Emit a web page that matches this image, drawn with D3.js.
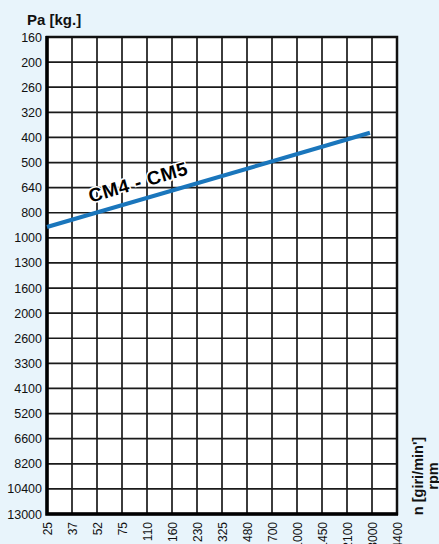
<!DOCTYPE html>
<html>
<head>
<meta charset="utf-8">
<script src="https://cdn.jsdelivr.net/npm/d3@7"></script>
<style>
  html, body { margin: 0; padding: 0; background: #e8f4fb; }
  svg { display: block; font-family: "Liberation Sans", Arial, sans-serif; }
</style>
</head>
<body>
<svg id="chart" width="439" height="544"></svg>
<script>
// Tick labels
const nLabels = ["25","37","52","75","110","160","230","325","480","700","1000","1450","2100","3000","4400"];
const paLabels = ["160","200","260","320","400","500","640","800","1000","1300","1600","2000","2600","3300","4100","5200","6600","8200","10400","13000"];
// Series: CM4 - CM5 (straight line in log-log)
const seriesName = "CM4 - CM5";
const lineN = [25, 2950];
const linePa = [923, 387];

(function () {
const W = 439, H = 544;
const pL = 47, pR = 397, pT = 37, pB = 514;

const svg = d3.select("#chart");
svg.append("rect").attr("width", W).attr("height", H).attr("fill", "#e8f4fb");

const xPoint = d3.scalePoint().domain(nLabels).range([pL, pR]).padding(0);
const yPoint = d3.scalePoint().domain(paLabels).range([pT, pB]).padding(0);
const xLog = d3.scaleLog().domain([+nLabels[0], +nLabels[nLabels.length - 1]]).range([pL, pR]);
const yLog = d3.scaleLog().domain([+paLabels[0], +paLabels[paLabels.length - 1]]).range([pT, pB]);

// plot area
svg.append("rect").attr("x", pL).attr("y", pT)
  .attr("width", pR - pL).attr("height", pB - pT).attr("fill", "#fff");

// grid
const grid = svg.append("g").attr("stroke", "#1a1a1a").attr("stroke-width", 1.7);
grid.selectAll("line.v").data(nLabels).join("line").attr("class", "v")
  .attr("x1", d => xPoint(d)).attr("x2", d => xPoint(d))
  .attr("y1", pT).attr("y2", pB);
grid.selectAll("line.h").data(paLabels).join("line").attr("class", "h")
  .attr("y1", d => yPoint(d)).attr("y2", d => yPoint(d))
  .attr("x1", pL).attr("x2", pR);

// frame
svg.append("rect").attr("x", pL).attr("y", pT)
  .attr("width", pR - pL).attr("height", pB - pT)
  .attr("fill", "none").attr("stroke", "#111").attr("stroke-width", 2.5);
svg.append("path").attr("d", `M${pL},${pT - 1}V${pB}H${pR + 1}`)
  .attr("fill", "none").attr("stroke", "#000").attr("stroke-width", 3.5);

// line
const pts = lineN.map((n, i) => [n, linePa[i]]);
const lineGen = d3.line().x(d => xLog(d[0])).y(d => yLog(d[1]));
svg.append("path").datum(pts).attr("d", lineGen)
  .attr("fill", "none").attr("stroke", "#1a76bc").attr("stroke-width", 4.2);

// series label along the line
const p0 = [xLog(pts[0][0]), yLog(pts[0][1])];
const p1 = [xLog(pts[1][0]), yLog(pts[1][1])];
const ang = Math.atan2(p1[1] - p0[1], p1[0] - p0[0]) * 180 / Math.PI;
const lx = 143;
const ly = p0[1] + (lx - p0[0]) * (p1[1] - p0[1]) / (p1[0] - p0[0]);
svg.append("text")
  .attr("transform", `translate(${lx},${ly}) rotate(${ang})`)
  .attr("y", -11)
  .attr("text-anchor", "middle")
  .attr("font-size", 19).attr("font-weight", "bold")
  .attr("letter-spacing", 0.6)
  .attr("fill", "#000").attr("stroke", "#fff").attr("stroke-width", 3)
  .attr("paint-order", "stroke")
  .text(seriesName);

// y axis
const yAxis = svg.append("g").attr("transform", `translate(${pL},0)`)
  .call(d3.axisLeft(yPoint).tickSize(0).tickPadding(5));
yAxis.select(".domain").remove();
yAxis.selectAll("text").attr("font-size", 12.5).attr("fill", "#111")
  .attr("font-family", "'Liberation Sans', Arial, sans-serif");

// x axis
const xAxis = svg.append("g").attr("transform", `translate(0,${pB})`)
  .call(d3.axisBottom(xPoint).tickSize(0));
xAxis.select(".domain").remove();
xAxis.selectAll("text")
  .attr("transform", "rotate(-90)")
  .attr("x", -8).attr("y", 0).attr("dy", "0.35em")
  .attr("text-anchor", "end")
  .attr("font-size", 12).attr("fill", "#111")
  .attr("font-family", "'Liberation Sans', Arial, sans-serif");

// titles
svg.append("text").attr("x", 27).attr("y", 25)
  .attr("font-size", 15).attr("font-weight", "bold").attr("fill", "#111")
  .text("Pa [kg.]");

const rt = svg.append("text")
  .attr("transform", "translate(423,476) rotate(-90)")
  .attr("text-anchor", "middle")
  .attr("font-size", 14.5).attr("font-weight", "bold").attr("fill", "#111");
rt.append("tspan").attr("x", 0).attr("y", 0).text("n [giri/min']");
rt.append("tspan").attr("x", 0).attr("y", 15).text("rpm");
})();
</script>
</body>
</html>
